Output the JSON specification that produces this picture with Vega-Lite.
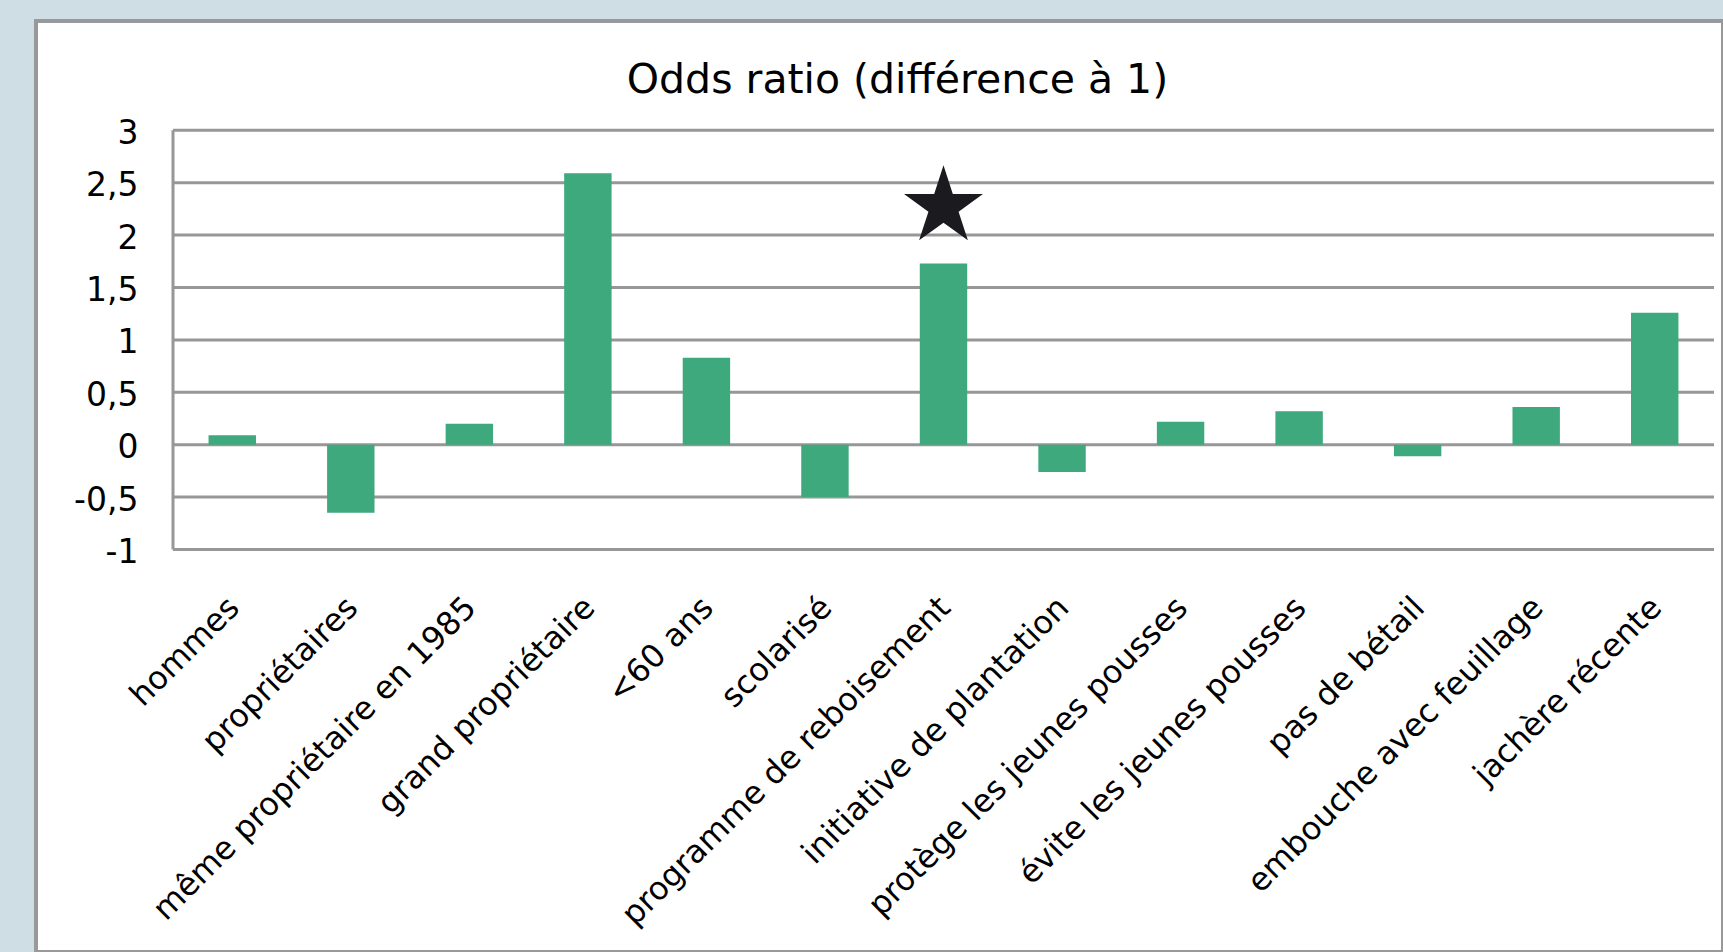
{
  "$schema": "https://vega.github.io/schema/vega-lite/v6.json",
  "autosize": {"type": "none"},
  "width": 1687,
  "height": 931,
  "padding": {"left": 36, "top": 21, "right": 0, "bottom": 0},
  "background": "#cfdde4",
  "config": {
    "view": {"fill": "white", "stroke": "#999999", "strokeWidth": 4},
    "font": "DejaVu Sans"
  },
  "title": {
    "text": "Odds ratio (différence à 1)",
    "font": "DejaVu Sans",
    "fontSize": 41,
    "fontWeight": "normal",
    "color": "#000000",
    "anchor": "middle",
    "frame": "group",
    "offset": -81,
    "dx": 18
  },
  "datasets": {
    "bars": [
      {"cat": "hommes", "value": 0.09},
      {"cat": "propriétaires", "value": -0.65},
      {"cat": "même propriétaire en 1985", "value": 0.2},
      {"cat": "grand propriétaire", "value": 2.59},
      {"cat": "<60 ans", "value": 0.83},
      {"cat": "scolarisé", "value": -0.5},
      {"cat": "programme de reboisement", "value": 1.73},
      {"cat": "initiative de plantation", "value": -0.26},
      {"cat": "protège les jeunes pousses", "value": 0.22},
      {"cat": "évite les jeunes pousses", "value": 0.32},
      {"cat": "pas de bétail", "value": -0.11},
      {"cat": "embouche avec feuillage", "value": 0.36},
      {"cat": "jachère récente", "value": 1.26}
    ],
    "ticks": [
      {"tick": -1}, {"tick": -0.5}, {"tick": 0}, {"tick": 0.5}, {"tick": 1},
      {"tick": 1.5}, {"tick": 2}, {"tick": 2.5}, {"tick": 3}
    ],
    "stars": [
      {"cat": "programme de reboisement", "star": 2.27}
    ]
  },
  "layer": [
    {
      "data": {"name": "ticks"},
      "mark": {"type": "rule", "color": "#979797", "strokeWidth": 3},
      "encoding": {
        "y": {"field": "tick", "type": "quantitative",
              "scale": {"domain": [-4.8407, 4.0429], "nice": false, "zero": false},
              "axis": {
                "orient": "left", "offset": -137, "title": null, "zindex": 1,
                "values": [-1, -0.5, 0, 0.5, 1, 1.5, 2, 2.5, 3],
                "domain": false, "ticks": false, "grid": false,
                "labelPadding": 35, "labelOffset": 3, "labelFontSize": 33, "labelFont": "DejaVu Sans",
                "labelColor": "#000000", "labelOverlap": false, "labelFlush": false,
                "labelExpr": "replace(toString(datum.value), '.', ',')"
              }},
        "x": {"datum": "hommes", "type": "nominal", "bandPosition": -0.75,
              "axis": {
                "orient": "bottom", "offset": -402.5, "title": null, "zindex": 1,
                "domain": false, "ticks": false, "grid": false,
                "labelAngle": -45, "labelAlign": "right", "labelBaseline": "top",
                "labelPadding": 42, "labelOffset": -9, "labelFontSize": 32, "labelFont": "DejaVu Sans",
                "labelColor": "#000000", "labelLimit": 1000, "labelOverlap": false
              }},
        "x2": {"datum": "jachère récente", "bandPosition": 1.75}
      }
    },
    {
      "data": {"values": [{}]},
      "mark": {"type": "rule", "color": "#979797", "strokeWidth": 3},
      "encoding": {
        "x": {"datum": "hommes", "type": "nominal", "bandPosition": -0.75,
              "axis": {
                "orient": "bottom", "offset": -402.5, "title": null, "zindex": 1,
                "domain": false, "ticks": false, "grid": false,
                "labelAngle": -45, "labelAlign": "right", "labelBaseline": "top",
                "labelPadding": 42, "labelOffset": -9, "labelFontSize": 32, "labelFont": "DejaVu Sans",
                "labelColor": "#000000", "labelLimit": 1000, "labelOverlap": false
              }},
        "y": {"datum": 3, "type": "quantitative",
              "axis": {
                "orient": "left", "offset": -137, "title": null, "zindex": 1,
                "values": [-1, -0.5, 0, 0.5, 1, 1.5, 2, 2.5, 3],
                "domain": false, "ticks": false, "grid": false,
                "labelPadding": 35, "labelOffset": 3, "labelFontSize": 33, "labelFont": "DejaVu Sans",
                "labelColor": "#000000", "labelOverlap": false, "labelFlush": false,
                "labelExpr": "replace(toString(datum.value), '.', ',')"
              }},
        "y2": {"datum": -1}
      }
    },
    {
      "data": {"name": "bars"},
      "mark": {"type": "bar", "color": "#3ea97c"},
      "encoding": {
        "x": {
          "field": "cat", "type": "nominal", "sort": null,
          "scale": {
            "type": "band",
            "domain": ["hommes", "propriétaires", "même propriétaire en 1985", "grand propriétaire", "<60 ans", "scolarisé", "programme de reboisement", "initiative de plantation", "protège les jeunes pousses", "évite les jeunes pousses", "pas de bétail", "embouche avec feuillage", "jachère récente"],
            "paddingInner": 0.6,
            "paddingOuter": 0.91585,
            "align": 0.79473
          },
          "axis": {
            "orient": "bottom", "offset": -402.5, "title": null, "zindex": 1,
            "domain": false, "ticks": false, "grid": false,
            "labelAngle": -45, "labelAlign": "right", "labelBaseline": "top",
            "labelPadding": 42, "labelOffset": -9, "labelFontSize": 32, "labelFont": "DejaVu Sans",
            "labelColor": "#000000", "labelLimit": 1000, "labelOverlap": false
          }
        },
        "y": {
          "field": "value", "type": "quantitative",
          "scale": {"domain": [-4.8407, 4.0429], "nice": false, "zero": false},
          "axis": {
            "orient": "left", "offset": -137, "title": null, "zindex": 1,
            "values": [-1, -0.5, 0, 0.5, 1, 1.5, 2, 2.5, 3],
            "domain": false, "ticks": false, "grid": false,
            "labelPadding": 35, "labelOffset": 3, "labelFontSize": 33, "labelFont": "DejaVu Sans",
            "labelColor": "#000000", "labelOverlap": false, "labelFlush": false,
            "labelExpr": "replace(toString(datum.value), '.', ',')"
          }
        },
        "y2": {"datum": 0}
      }
    },
    {
      "data": {"name": "stars"},
      "mark": {
        "type": "point", "filled": true, "opacity": 1, "color": "#1b1b1f", "size": 6889,
        "shape": "M0,-1L0.2245,-0.309L0.9511,-0.309L0.3633,0.118L0.5878,0.809L0,0.382L-0.5878,0.809L-0.3633,0.118L-0.9511,-0.309L-0.2245,-0.309Z"
      },
      "encoding": {
        "x": {"field": "cat", "type": "nominal",
              "axis": {
                "orient": "bottom", "offset": -402.5, "title": null, "zindex": 1,
                "domain": false, "ticks": false, "grid": false,
                "labelAngle": -45, "labelAlign": "right", "labelBaseline": "top",
                "labelPadding": 42, "labelOffset": -9, "labelFontSize": 32, "labelFont": "DejaVu Sans",
                "labelColor": "#000000", "labelLimit": 1000, "labelOverlap": false
              }},
        "y": {"field": "star", "type": "quantitative",
              "axis": {
                "orient": "left", "offset": -137, "title": null, "zindex": 1,
                "values": [-1, -0.5, 0, 0.5, 1, 1.5, 2, 2.5, 3],
                "domain": false, "ticks": false, "grid": false,
                "labelPadding": 35, "labelOffset": 3, "labelFontSize": 33, "labelFont": "DejaVu Sans",
                "labelColor": "#000000", "labelOverlap": false, "labelFlush": false,
                "labelExpr": "replace(toString(datum.value), '.', ',')"
              }}
      }
    }
  ]
}
